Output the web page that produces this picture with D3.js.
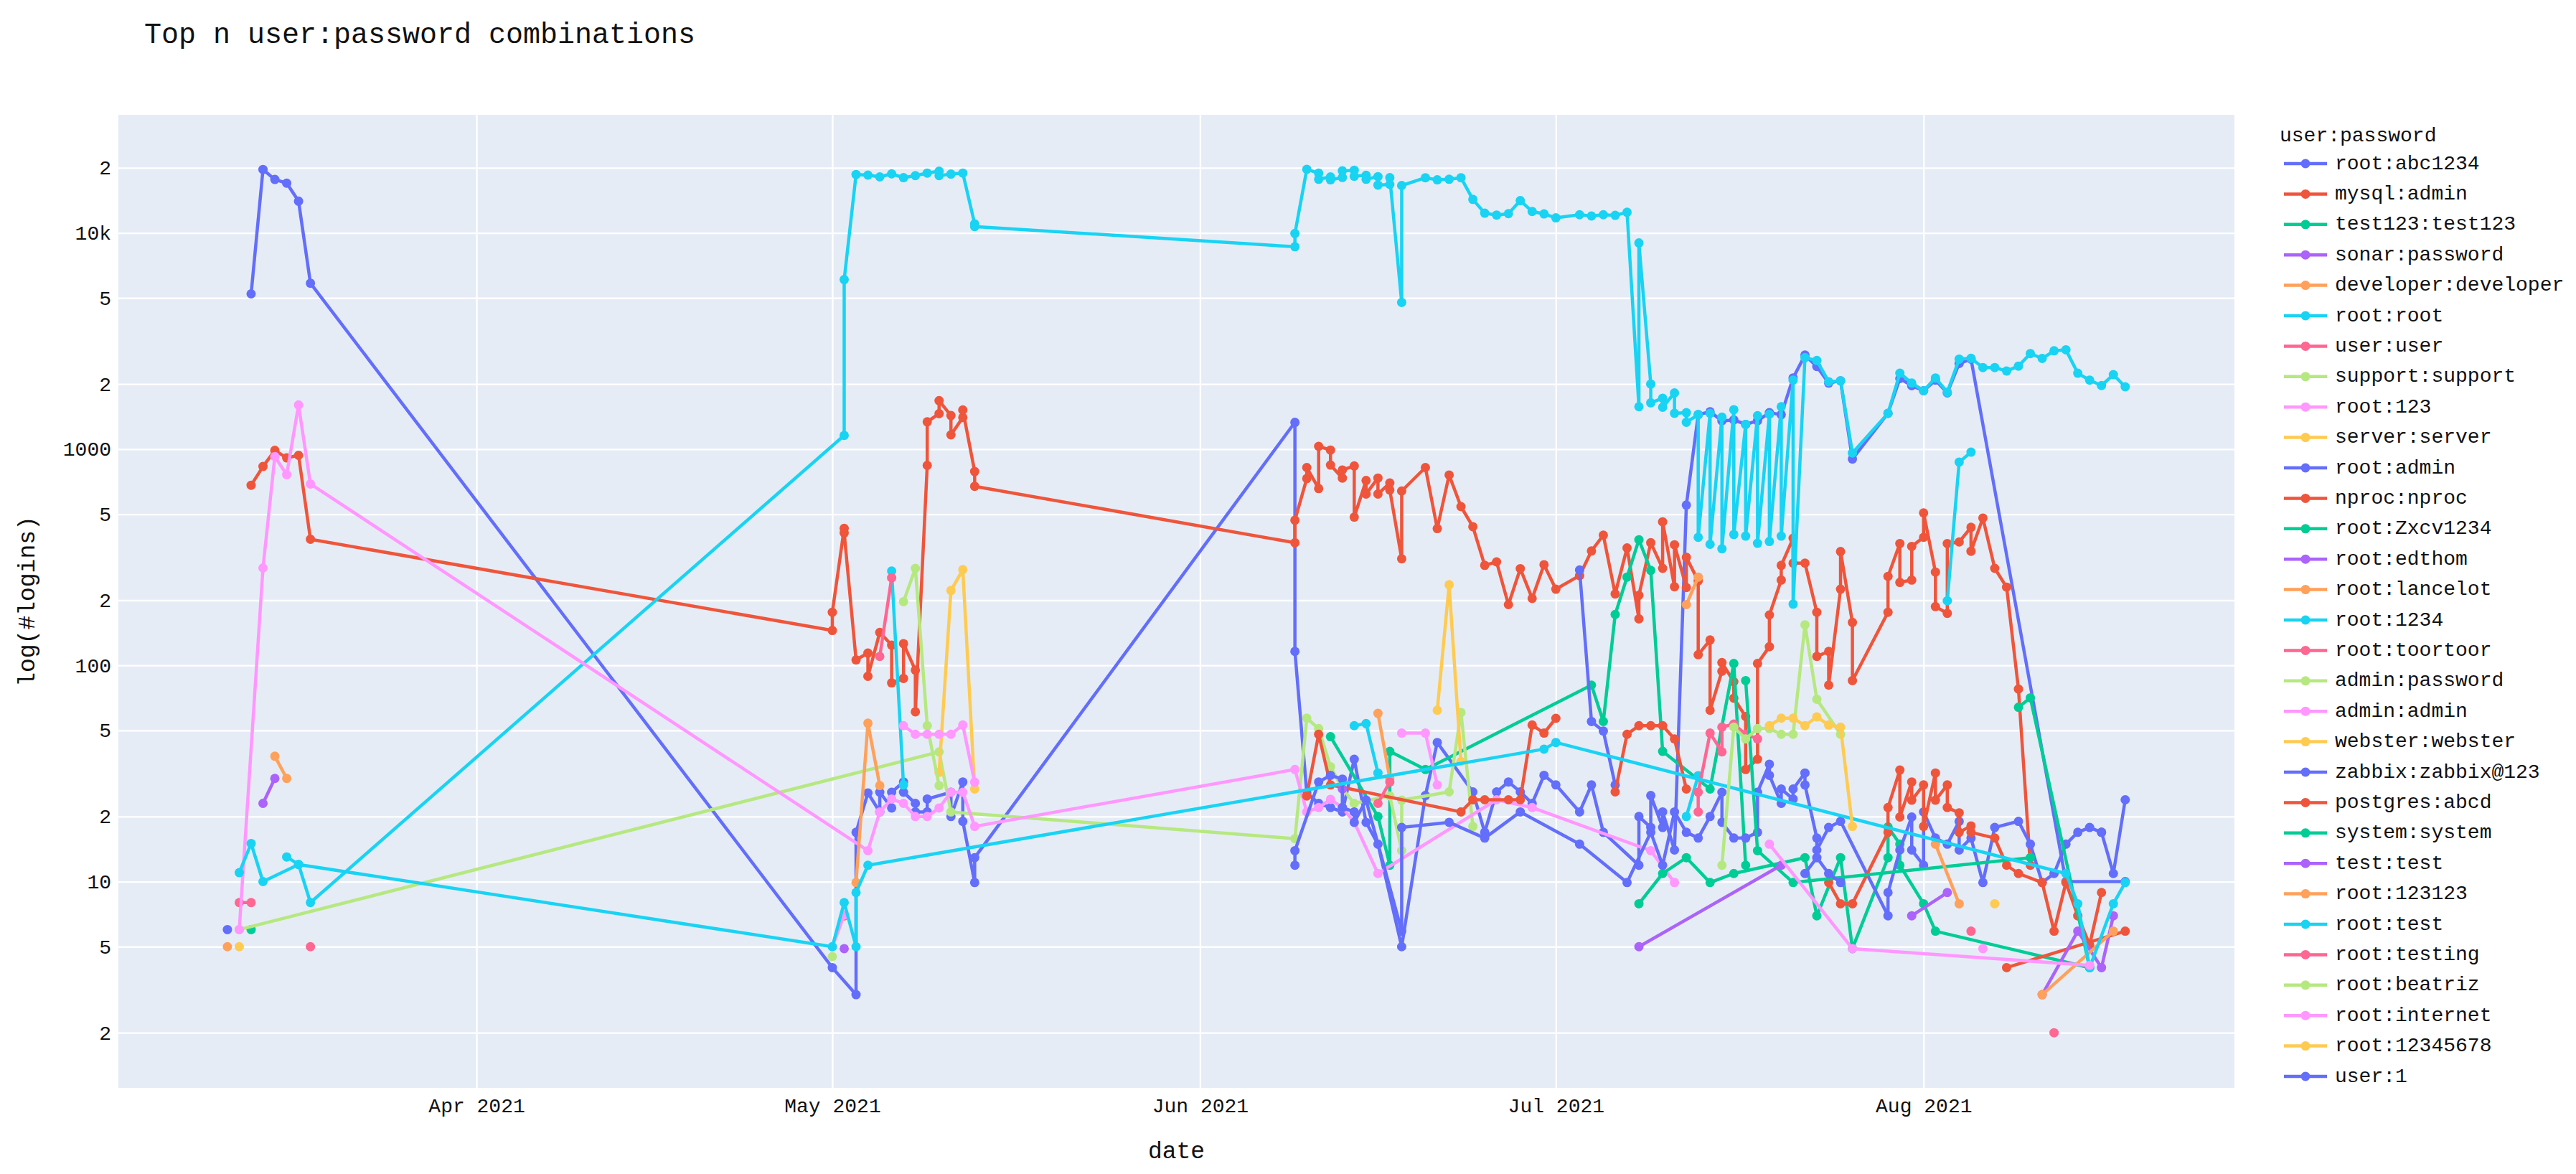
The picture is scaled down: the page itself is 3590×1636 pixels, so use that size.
<!DOCTYPE html>
<html>
<head>
<meta charset="utf-8">
<script src="https://cdn.jsdelivr.net/npm/d3@7"></script>
<style>
  body { margin: 0; background: #fff; }
  svg text { font-family: "Liberation Mono", "DejaVu Sans Mono", monospace; fill: #111; }
</style>
</head>
<body>
<svg id="chart" width="3590" height="1636"></svg>
<script>

// Data (month-day of 2021, number of logins); null = gap in the trace

var rootAbc1234 = [["03-13",5224],["03-14",19640],["03-15",17660],["03-16",16980],["03-17",14020],["03-18",5850],
  ["05-01",4],["05-03",3],["05-03",16.9],["05-04",25.7],["05-05",21],["05-05",25.9],["05-06",21.9],["05-06",25.9],["05-07",28.9],["05-07",25.9],["05-08",23],["05-08",21],["05-09",21],["05-09",24.1],["05-11",25.9],["05-11",20],["05-12",28.9],["05-12",19],["05-13",9.9],["05-13",12.9],
  ["06-09",1330],["06-09",116],["06-10",25.7],["06-11",23],["06-12",22],["06-13",21],["06-14",36.8],["06-15",18.8],["06-16",14.9],["06-18",5],["06-20",25],["06-21",44],["06-24",26],["06-25",16.9],["06-26",26],["06-27",28.9],["06-28",26],["06-29",23],["06-30",31],["07-01",28],["07-03",21],["07-04",28],["07-05",16.9],["07-08",11.9],["07-08",20],["07-09",17.8],["07-09",25],["07-10",17.8],["07-10",21],["07-11",14],
  ["07-12",551],["07-13",1443],["07-14",1489],["07-15",1352],["07-16",1365],["07-17",1301],["07-18",1352],["07-19",1474],["07-20",1443],["07-21",2134],["07-22",2722],["07-23",2411],["07-24",2020],["07-25",2070],["07-26",900],["07-29",1465],["07-30",2120],["07-31",1966],["08-01",1862],["08-02",2085],["08-03",1820],["08-04",2489],["08-05",2610],["08-13",10],["08-18",10]];

var mysqlAdmin = [["03-13",681],["03-14",831],["03-15",987],["03-16",911],["03-17",936],["03-18",383],
  ["05-01",145],["05-01",176],["05-02",430],["05-02",410],["05-03",106],["05-04",114],["05-04",89],["05-05",142],["05-06",124],["05-06",83],["05-07",87],["05-07",126],["05-08",95],["05-08",61],["05-09",841],["05-09",1337],["05-10",1459],["05-10",1675],["05-11",1430],["05-11",1164],["05-12",1400],["05-12",1517],["05-13",788],["05-13",673],
  ["06-09",369],["06-09",469],["06-10",731],["06-10",822],["06-11",657],["06-11",1030],["06-12",990],["06-12",844],["06-13",735],["06-13",801],["06-14",836],["06-14",485],["06-15",716],["06-15",620],["06-16",735],["06-16",620],["06-17",697],["06-17",647],["06-18",311],["06-18",640],["06-20",822],["06-21",429],["06-22",759],["06-23",542],["06-24",438],["06-25",290],["06-26",301],["06-27",191],["06-28",280],["06-29",204],["06-30",292],["07-01",225],["07-03",260],["07-04",338],["07-05",400],["07-06",214],["07-07",349],["07-08",164],["07-08",211],["07-09",369],["07-10",281],["07-10",461],["07-11",231],["07-11",361],["07-12",229],["07-12",316],["07-13",246],["07-13",112],["07-14",131],["07-14",62],["07-15",94],["07-15",103],["07-16",84],["07-16",70.5],["07-17",58],["07-17",33],["07-18",36.8],["07-18",102],["07-19",122],["07-19",171],["07-20",248],["07-20",290],["07-21",387],["07-21",297],["07-22",297],["07-23",176],["07-23",110],["07-24",116],["07-24",81],["07-25",225],["07-25",336],["07-26",158],["07-26",85],
  ["07-29",176],["07-29",258],["07-30",366],["07-30",242],["07-31",248],["07-31",355],["08-01",391],["08-01",507],["08-02",270],["08-02",187],["08-03",174],["08-03",366],["08-04",372],["08-05",435],["08-05",337],["08-06",480],["08-07",281],["08-08",230],["08-09",77.7],["08-10",11.9]];

var test123 = [["03-13",6], null, ["06-12",46.8],["06-16",20],["06-17",11.9],["06-17",40],["06-20",33],["07-04",81],["07-05",55],["07-06",172],["07-07",256],["07-08",381],["07-09",275],["07-10",40],["07-14",26.8],["07-16",102],["07-17",11.9]];

var sonarPassword = [["03-14",23],["03-15",30], null, ["05-02",4.9]];

var developer = [["03-11",5]];

var rootRoot = [["03-16",13],["03-17",12],["03-18",8],
  ["05-02",1157],["05-02",6085],["05-03",18620],["05-04",18500],["05-05",18150],["05-06",18750],["05-07",18000],["05-08",18400],["05-09",18900],["05-10",19300],["05-10",18400],["05-11",18700],["05-12",18900],["05-13",11000],["05-13",10700],
  ["06-09",8630],["06-09",9940],["06-10",19680],["06-11",18880],["06-11",17700],["06-12",18150],["06-12",17590],["06-13",18040],["06-13",19360],["06-14",19500],["06-14",18280],["06-15",18460],["06-15",17700],["06-16",18200],["06-16",16630],["06-17",16750],["06-17",18000],["06-18",4770],["06-18",16560],["06-20",17990],["06-21",17590],["06-22",17700],["06-23",17990],["06-24",14290],["06-25",12330],["06-26",12090],["06-27",12270],["06-28",14100],["06-29",12560],["06-30",12240],["07-01",11740],["07-03",12130],["07-04",11970],["07-05",12130],["07-06",12050],["07-07",12450],
  ["07-08",1571],["07-08",8980],["07-09",1999],["07-09",1638],["07-10",1719],["07-10",1562],["07-11",1820],["07-11",1465],["07-12",1474],["07-12",1331],["07-13",1443],["07-13",391],["07-14",1465],["07-14",363],["07-15",1405],["07-15",346],["07-16",1522],["07-16",403],["07-17",1301],["07-17",396],["07-18",1428],["07-18",367],["07-19",1450],["07-19",374],["07-20",1571],["07-20",396],["07-21",2085],["07-21",192],
  ["07-22",2650],["07-23",2570],["07-24",2050],["07-25",2070],["07-26",960],["07-29",1465],["07-30",2244],["07-31",2020],["08-01",1862],["08-02",2134],["08-03",1833],["08-04",2607],["08-05",2630],["08-06",2384],["08-07",2384],["08-08",2296],["08-09",2421],["08-10",2766],["08-11",2626],["08-12",2850],["08-13",2880],["08-14",2244],["08-15",2085],["08-16",1968],["08-17",2210],["08-18",1942]];

var userUser = [["03-12",8],["03-13",8], null, ["03-18",5]];

var supportSupport = [["03-12",6],["05-10",39.8],["05-11",21],["06-09",15.8],["06-10",57],["06-11",51],["06-12",34],["06-13",27],["06-14",23],["06-17",24.9],["06-18",13.9],["06-18",23.8],["06-22",26],["06-23",60.5],["06-24",18]];

var root123 = [["03-12",6],["03-14",282],["03-15",924],["03-16",762],["03-17",1600],["03-18",690],
  ["05-04",13.9],["05-05",21],["05-06",24.1],["05-07",23],["05-08",20],["05-09",20],["05-10",21.9],["05-11",25.9],["05-12",25.9],["05-13",18],
  ["06-09",33],["06-10",21],["06-11",22],["06-12",24],["06-13",22],["06-14",18.8],["06-16",10.9],["06-26",23.9],["06-29",22],["07-09",13.9],["07-11",9.9]];

var serverServer = [["03-12",5], null, ["05-10",32],["05-11",222],["05-12",277],["05-13",26.8]];

var rootAdmin = [["03-11",6], null, ["07-03",276],["07-04",55],["07-05",49.7],["07-06",28]];

var nprocNproc = [["05-02",6.95], null, ["06-10",24.9],["06-11",48],["06-12",28],["06-23",21],["06-24",23.9],["06-25",23.9],["06-27",23.9],["06-28",23.9],["06-29",53],["06-30",48.6],["07-01",56.9]];

var rootZxcv1234 = [["07-08",7.9],["07-10",10.9],["07-12",12.9],["07-14",9.9],["07-16",10.9],["07-22",12.9],["07-23",6.95],["07-25",12.9],["07-26",4.9],["07-29",12.9],["07-29",17.9],["07-30",14.9],["07-30",11.9],["08-01",7.9],["08-02",5.9],["08-15",4]];

var rootEdthom = [["06-13",26.8], null, ["07-31",6.95],["08-03",8.9]];

var rootLancelot = [["03-15",38],["03-16",30], null, ["05-03",9.9],["05-04",54],["05-05",27.8], null, ["06-16",60],["06-17",30]];

var root1234 = [["05-06",273],["05-07",28], null, ["06-14",52.6],["06-15",53.8],["06-16",31.8], null, ["07-12",20],["07-13",30.9], null, ["08-03",199],["08-04",871],["08-05",968]];

var rootToortoor = [["05-05",110],["05-06",254], null, ["06-16",23],["06-17",28.9], null, ["07-13",21],["07-13",25.9],["07-14",48.6],["07-15",39.8],["07-15",51.8],["07-16",53.5],["07-17",48],["07-18",45.7], null, ["08-05",5.9]];

var adminPassword = [["05-01",4.5], null, ["05-07",197],["05-08",281],["05-09",52.6],["05-10",27.8]];

var adminAdmin = [["05-01",5],["05-02",7], null, ["05-07",52.6],["05-08",48],["05-09",48],["05-10",48],["05-11",48],["05-12",53],["05-13",28.8], null, ["06-18",48.6],["06-20",48.6],["06-21",28]];

var websterWebster = [["06-21",62],["06-22",236],["06-23",35.9]];

var zabbixZabbix123 = [["06-09",11.9],["06-09",13.9],["06-11",28.9],["06-12",31],["06-13",29.8],["06-13",22],["06-14",21],["06-14",18.8],["06-15",23.8],["06-18",5.9],["06-18",17.8],["06-22",18.8],["06-25",15.9],["06-28",21],["07-03",14.9],["07-07",9.9],["07-09",16.9],["07-10",11.9],["07-11",21],["07-12",16.9],["07-13",15.9],["07-14",20],["07-15",25.9],["07-15",18.8],["07-16",15.9],["07-17",15.9],["07-18",16.9],["07-18",25.9],["07-19",34.9],["07-19",31],["07-20",23],["07-20",26.8],["07-21",24.1],["07-21",26.8],["07-22",31.8],["07-22",28],["07-23",15.9],["07-23",14],["07-24",17.8],["07-25",19],
  ["07-29",6.95],["07-29",8.9],["07-30",14],["07-31",19.9],["07-31",14],["08-01",11.9],["08-01",21],["08-02",15.9],["08-03",14.9],["08-04",19],["08-04",14],["08-05",15.9],["08-06",9.9],["08-07",17.8],["08-09",19],["08-10",14.9],["08-11",9.9],["08-12",10.9],["08-13",14.9],["08-14",16.9],["08-15",17.8],["08-16",16.9]];

var postgresAbcd = [["07-06",26],["07-07",48],["07-08",52.6],["07-09",52.6],["07-10",52.6],["07-11",45.7],["07-12",26.8], null,
  ["07-24",9.9],["07-25",7.9],["07-26",7.9],["07-29",16.9],["07-29",22],["07-30",32.8],["07-30",19.9],["07-31",28.9],["07-31",23.8],["08-01",28],["08-01",18],["08-02",31.8],["08-02",23.8],["08-03",28],["08-03",22],["08-04",20.8],["08-04",16.9],["08-05",18.1],["08-05",16.9],["08-07",15.9],["08-08",11.9],["08-09",10.9],["08-11",9.9],["08-12",5.9],["08-13",9.9],["08-14",6.95],["08-15",5.1],["08-16",8.9], null,
  ["08-08",4],["08-18",5.9]];

var systemSystem = [["07-17",85],["07-18",13.9],["07-21",9.9],["08-10",12.9], null, ["08-09",64],["08-10",70.8],["08-15",4]];

var testTest = [["07-08",5],["07-20",11.9], null, ["08-11",3],["08-14",5.9],["08-16",4],["08-17",6.95]];

var root123123 = [["07-12",191],["07-13",256], null, ["08-02",14.9],["08-04",7.9], null, ["08-11",3],["08-17",5.9]];

var rootTest = [["03-12",11],["03-13",15],["03-14",10],["03-17",12],["05-01",5],["05-02",8],["05-03",5],["05-03",8.9],["05-04",11.9],["06-30",41],["07-01",44],["08-13",10.9],["08-14",7.9],["08-15",4],["08-17",7.9],["08-18",9.9]];

var rootTesting = [["08-12",2]];

var rootBeatriz = [["07-15",11.9],["07-16",51.8],["07-17",45.7],["07-18",51],["07-19",51],["07-20",48],["07-21",48],["07-22",154],["07-23",69.7],["07-25",48]];

var rootInternet = [["07-19",14.9],["07-26",4.9],["08-15",4.1], null, ["08-06",4.9]];

var root12345678 = [["07-19",52.6],["07-20",57],["07-21",57],["07-22",52.6],["07-23",57.8],["07-24",53],["07-25",51.8],["07-26",18], null, ["08-07",7.9]];

var user1 = [["07-22",10.9],["07-23",12.9],["07-24",10.9],["07-25",9.9], null, ["08-16",16.9],["08-17",10.9],["08-18",23.9]];

var seriesNames = ["root:abc1234","mysql:admin","test123:test123","sonar:password","developer:developer","root:root","user:user","support:support","root:123","server:server","root:admin","nproc:nproc","root:Zxcv1234","root:edthom","root:lancelot","root:1234","root:toortoor","admin:password","admin:admin","webster:webster","zabbix:zabbix@123","postgres:abcd","system:system","test:test","root:123123","root:test","root:testing","root:beatriz","root:internet","root:12345678","user:1"];

var seriesValues = [rootAbc1234, mysqlAdmin, test123, sonarPassword, developer, rootRoot, userUser, supportSupport, root123, serverServer, rootAdmin, nprocNproc, rootZxcv1234, rootEdthom, rootLancelot, root1234, rootToortoor, adminPassword, adminAdmin, websterWebster, zabbixZabbix123, postgresAbcd, systemSystem, testTest, root123123, rootTest, rootTesting, rootBeatriz, rootInternet, root12345678, user1];

var yTickValues = [2, 5, 10, 20, 50, 100, 200, 500, 1000, 2000, 5000, 10000, 20000];

var palette = ["#636efa","#EF553B","#00cc96","#ab63fa","#FFA15A","#19d3f3","#FF6692","#B6E880","#FF97FF","#FECB52"];


// Layout

var svg = d3.select('#chart');
var W = 3590, H = 1636;
var plot = { left: 165, top: 160, right: 3114, bottom: 1516 };

var parseDay = d3.utcParse('%Y-%m-%d');

var x = d3.scaleUtc()
  .domain([Date.UTC(2021, 2, 1, 19, 26), Date.UTC(2021, 7, 27, 5, 0)])
  .range([plot.left, plot.right]);

var y = d3.scaleLog()
  .domain([Math.pow(10, 0.046), Math.pow(10, 4.546)])
  .range([plot.bottom, plot.top]);

svg.append('rect')
  .attr('x', plot.left).attr('y', plot.top)
  .attr('width', plot.right - plot.left).attr('height', plot.bottom - plot.top)
  .attr('fill', '#E5ECF6');

// Gridlines + tick labels
var yAxis = d3.axisLeft(y)
  .tickValues(yTickValues)
  .tickSize(-(plot.right - plot.left))
  .tickPadding(8)
  .tickFormat(function(d) {
    if (d === 10000) return '10k';
    if (d === 10 || d === 100 || d === 1000) return String(d);
    return String(d).charAt(0);
  });

svg.append('g')
  .attr('transform', 'translate(' + plot.left + ',0)')
  .call(yAxis)
  .call(function(g) {
    g.select('.domain').remove();
    g.selectAll('line').attr('stroke', '#fff').attr('stroke-width', 2.3);
    g.selectAll('text').attr('font-size', 28).attr('x', -10);
  });

var xAxis = d3.axisBottom(x)
  .ticks(d3.utcMonth.every(1))
  .tickSize(-(plot.bottom - plot.top))
  .tickPadding(14)
  .tickFormat(d3.utcFormat('%b %Y'));

svg.append('g')
  .attr('transform', 'translate(0,' + plot.bottom + ')')
  .call(xAxis)
  .call(function(g) {
    g.select('.domain').remove();
    g.selectAll('line').attr('stroke', '#fff').attr('stroke-width', 2.3);
    g.selectAll('text').attr('font-size', 28);
  });

// Traces
var clip = svg.append('clipPath').attr('id', 'plot-clip')
  .append('rect')
  .attr('x', plot.left).attr('y', plot.top)
  .attr('width', plot.right - plot.left).attr('height', plot.bottom - plot.top);

var line = d3.line()
  .defined(function(d) { return d !== null; })
  .x(function(d) { return x(parseDay('2021-' + d[0])); })
  .y(function(d) { return y(d[1]); });

var traces = svg.append('g').attr('clip-path', 'url(#plot-clip)');

seriesValues.forEach(function(values, i) {
  var color = palette[i % palette.length];
  var g = traces.append('g');

  g.append('path')
    .datum(values)
    .attr('d', line)
    .attr('fill', 'none')
    .attr('stroke', color)
    .attr('stroke-width', 4.5)
    .attr('stroke-linejoin', 'round');

  g.selectAll('circle')
    .data(values.filter(function(d) { return d !== null; }))
    .join('circle')
    .attr('cx', function(d) { return x(parseDay('2021-' + d[0])); })
    .attr('cy', function(d) { return y(d[1]); })
    .attr('r', 6.5)
    .attr('fill', color);
});

// Titles
svg.append('text')
  .attr('x', 201).attr('y', 60)
  .attr('font-size', 40)
  .text('Top n user:password combinations');

svg.append('text')
  .attr('x', (plot.left + plot.right) / 2).attr('y', 1614)
  .attr('text-anchor', 'middle')
  .attr('font-size', 33)
  .text('date');

svg.append('text')
  .attr('transform', 'translate(48,' + ((plot.top + plot.bottom) / 2) + ') rotate(-90)')
  .attr('text-anchor', 'middle')
  .attr('font-size', 33)
  .text('log(#logins)');

// Legend
var legend = svg.append('g');

legend.append('text')
  .attr('x', 3177).attr('y', 189)
  .attr('dominant-baseline', 'central')
  .attr('font-size', 28)
  .text('user:password');

seriesNames.forEach(function(name, i) {
  var ly = 228 + i * 42.4;
  var color = palette[i % palette.length];
  legend.append('line')
    .attr('x1', 3183).attr('x2', 3243)
    .attr('y1', ly).attr('y2', ly)
    .attr('stroke', color).attr('stroke-width', 4.5);
  legend.append('circle')
    .attr('cx', 3213).attr('cy', ly).attr('r', 6.5)
    .attr('fill', color);
  legend.append('text')
    .attr('x', 3254).attr('y', ly)
    .attr('dominant-baseline', 'central')
    .attr('font-size', 28)
    .text(name);
});

</script>
</body>
</html>
